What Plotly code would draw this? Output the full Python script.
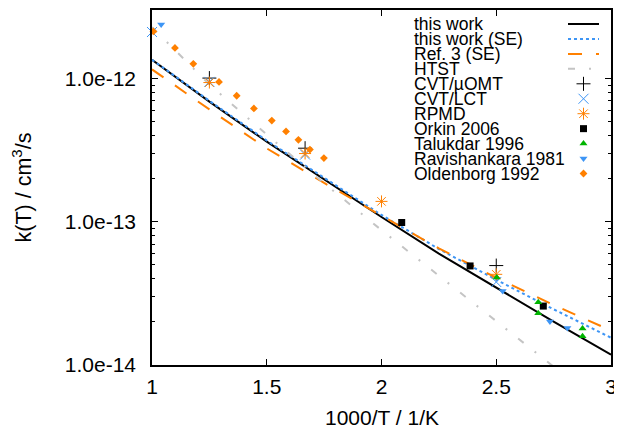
import plotly.graph_objects as go

# ---------------- data ----------------
x_line = [1.0, 1.25, 1.5, 1.75, 2.0, 2.25, 2.5, 2.75, 3.0]
k_this_work = [1.358e-12, 6.92e-13, 3.63e-13, 1.97e-13, 1.081e-13, 6.0e-14, 3.45e-14, 2.01e-14, 1.18e-14]
k_this_work_se = [1.358e-12, 7.0e-13, 3.70e-13, 2.04e-13, 1.117e-13, 6.46e-14, 3.94e-14, 2.45e-14, 1.55e-14]
k_ref3_se = [1.161e-12, 6.10e-13, 3.26e-13, 1.87e-13, 1.104e-13, 6.53e-14, 4.07e-14, 2.63e-14, 1.74e-14]
k_htst = [2.29e-12, 9.12e-13, 4.07e-13, 1.86e-13, 8.75e-14, 4.2e-14, 2.02e-14, 9.8e-15, 4.68e-15]

x_cvt_muomt = [1.25, 1.667, 2.5]
k_cvt_muomt = [1.01e-12, 3.27e-13, 4.95e-14]
x_cvt_lct = [1.0, 1.25, 1.667, 2.5]
k_cvt_lct = [2.12e-12, 9.5e-13, 2.95e-13, 3.8e-14]
x_rpmd = [1.25, 1.667, 2.0, 2.5]
k_rpmd = [9.4e-13, 3.0e-13, 1.39e-13, 4.3e-14]
x_orkin = [2.088, 2.386, 2.705]
k_orkin = [9.9e-14, 4.92e-14, 2.58e-14]
x_talukdar = [2.502, 2.683, 2.683, 2.876, 2.876]
k_talukdar = [4.08e-14, 2.74e-14, 2.30e-14, 1.80e-14, 1.59e-14]
x_ravishankara = [1.04, 2.528, 2.734, 2.81]
k_ravishankara = [2.39e-12, 3.29e-14, 2.01e-14, 1.81e-14]
x_oldenborg = [1.006, 1.100, 1.180, 1.292, 1.369, 1.444, 1.522, 1.584, 1.638, 1.688, 1.749]
k_oldenborg = [2.14e-12, 1.64e-12, 1.27e-12, 9.5e-13, 7.6e-13, 6.2e-13, 5.1e-13, 4.28e-13, 3.74e-13, 3.2e-13, 2.79e-13]

x_tick_vals = [1, 1.5, 2, 2.5, 3]
x_tick_text = ["1", "1.5", "2", "2.5", "3"]
y_tick_vals = [1e-14, 1e-13, 1e-12]
y_tick_text = ["1.0e-14", "1.0e-13", "1.0e-12"]
x_title = "1000/T / 1/K"
y_title = "k(T) / cm<sup>3</sup>/s"

labels = ["this work", "this work (SE)", "Ref. 3 (SE)", "HTST", "CVT/\u00b5OMT", "CVT/LCT",
          "RPMD", "Orkin 2006", "Talukdar 1996", "Ravishankara 1981", "Oldenborg 1992"]

# ---------------- styles ----------------
BLACK = "#000000"
BLUE = "#3d95f5"
ORANGE = "#ff8000"
GRAY = "#c4c4c4"
GREEN = "#00b400"

series = [
    dict(x=x_line, y=k_this_work, mode="lines", line=dict(color=BLACK, width=2)),
    dict(x=x_line, y=k_this_work_se, mode="lines", line=dict(color=BLUE, width=2, dash="3px,3px")),
    dict(x=x_line, y=k_ref3_se, mode="lines", line=dict(color=ORANGE, width=2, dash="14px,14px")),
    dict(x=x_line, y=k_htst, mode="lines", line=dict(color=GRAY, width=2, dash="7px,14px,2px,14px")),
    dict(x=x_cvt_muomt, y=k_cvt_muomt, mode="markers",
         marker=dict(symbol="cross-thin-open", size=10, color=BLACK, line=dict(color=BLACK, width=1))),
    dict(x=x_cvt_lct, y=k_cvt_lct, mode="markers",
         marker=dict(symbol="x-thin-open", size=10, color=BLUE, line=dict(color=BLUE, width=1))),
    dict(x=x_rpmd, y=k_rpmd, mode="markers",
         marker=dict(symbol="asterisk-open", size=10, color=ORANGE, line=dict(color=ORANGE, width=1))),
    dict(x=x_orkin, y=k_orkin, mode="markers",
         marker=dict(symbol="square", size=7, color=BLACK)),
    dict(x=x_talukdar, y=k_talukdar, mode="markers",
         marker=dict(symbol="triangle-up", size=7, color=GREEN)),
    dict(x=x_ravishankara, y=k_ravishankara, mode="markers",
         marker=dict(symbol="triangle-down", size=7, color=BLUE)),
    dict(x=x_oldenborg, y=k_oldenborg, mode="markers",
         marker=dict(symbol="diamond", size=6, color=ORANGE)),
]

fig = go.Figure()
for name, s in zip(labels, series):
    fig.add_trace(go.Scatter(name=name, showlegend=False, cliponaxis=(s["mode"] == "lines"),
                             hoverinfo="skip", **s))

# ---------------- layout geometry ----------------
# the page body adds an 8 px margin, so the figure is 8 px smaller and its
# top/left margins are 8 px smaller to land the plot frame where the reference has it
OFF = 8
W, H = 622 - OFF, 429 - OFF
ML, MR, MT, MB = 152 - OFF, 11, 10 - OFF, 64
pw, ph = W - ML - MR, H - MT - MB

def px_to_fx(px):
    return (px - OFF - ML) / pw

def py_to_fy(py):
    return (H - MB - (py - OFF)) / ph

# ---------------- hand-built key (gnuplot style, tight spacing) ----------------
row0, step = 24.0, 14.95
text_x = px_to_fx(413)
samp_x0, samp_x1 = px_to_fx(568), px_to_fx(599)
samp_xm = (samp_x0 + samp_x1) / 2

for i, (name, s) in enumerate(zip(labels, series)):
    fy = py_to_fy(row0 + i * step)
    fig.add_annotation(xref="paper", yref="paper", x=text_x, y=fy, text=name,
                       showarrow=False, xanchor="left", yanchor="middle", borderpad=0,
                       font=dict(size=17.5, color="black"))
    if s["mode"] == "lines":
        fig.add_trace(go.Scatter(x=[samp_x0, samp_x1], y=[fy, fy], mode="lines", line=s["line"],
                                 xaxis="x2", yaxis="y2", showlegend=False, hoverinfo="skip"))
    else:
        fig.add_trace(go.Scatter(x=[samp_xm], y=[fy], mode="markers", marker=s["marker"],
                                 xaxis="x2", yaxis="y2", showlegend=False, hoverinfo="skip",
                                 cliponaxis=False))

# x-axis title placed as an annotation so it can sit low like the reference
fig.add_annotation(xref="paper", yref="paper", x=0.5, y=py_to_fy(417), text=x_title,
                   showarrow=False, xanchor="center", yanchor="middle", borderpad=0,
                   font=dict(size=21, color="black"))

minor_vals = [m * 10.0 ** e for e in (-14, -13) for m in range(2, 10)]

axis_common = dict(showline=True, linecolor="black", linewidth=1.5, mirror="allticks",
                   ticks="inside", ticklen=6, tickwidth=1, tickcolor="black",
                   showgrid=False, zeroline=False, automargin=False)

fig.update_layout(
    width=W, height=H,
    margin=dict(l=ML, r=MR, t=MT, b=MB, autoexpand=False),
    paper_bgcolor="white", plot_bgcolor="white",
    showlegend=False,
    font=dict(family="Liberation Sans, Arial, sans-serif", size=21, color="black"),
    xaxis=dict(range=[1, 3], tickmode="array", tickvals=x_tick_vals, ticktext=x_tick_text,
               ticklabelstandoff=2, **axis_common),
    yaxis=dict(type="log", range=[-14, -11.52], tickmode="array", tickvals=y_tick_vals,
               ticktext=y_tick_text, ticklabelstandoff=10,
               minor=dict(tickmode="array", tickvals=minor_vals, ticks="inside", ticklen=3,
                          tickwidth=1, tickcolor="black", showgrid=False),
               title=dict(text=y_title, standoff=30, font=dict(size=21.5)), **axis_common),
    xaxis2=dict(overlaying="x", range=[0, 1], visible=False, fixedrange=True),
    yaxis2=dict(overlaying="y", range=[0, 1], visible=False, fixedrange=True),
)

fig.write_html("out.html")
